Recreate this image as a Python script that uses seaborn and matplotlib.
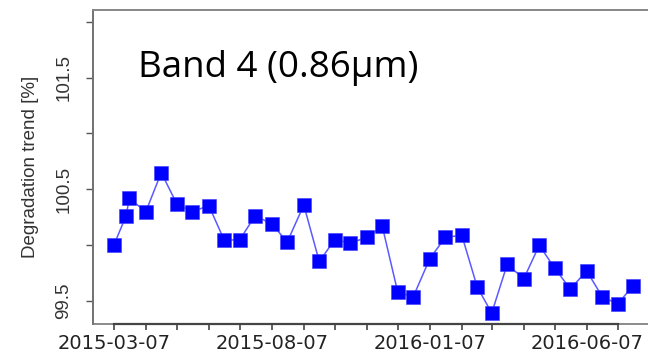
import matplotlib
matplotlib.use("Agg")
import matplotlib.pyplot as plt
import matplotlib.dates as mdates
import pandas as pd
import seaborn as sns

# Acquisition dates and degradation trend values (%)
dates = [
    "2015-03-07", "2015-03-19", "2015-03-22", "2015-04-07", "2015-04-22",
    "2015-05-07", "2015-05-22", "2015-06-07", "2015-06-22", "2015-07-07",
    "2015-07-22", "2015-08-07", "2015-08-22", "2015-09-07", "2015-09-22",
    "2015-10-07", "2015-10-22", "2015-11-07", "2015-11-22", "2015-12-07",
    "2015-12-22", "2016-01-07", "2016-01-22", "2016-02-07", "2016-02-22",
    "2016-03-07", "2016-03-22", "2016-04-07", "2016-04-22", "2016-05-07",
    "2016-05-22", "2016-06-07", "2016-06-22", "2016-07-07", "2016-07-22",
]
trend = [
    100.00, 100.265, 100.42, 100.30, 100.65,
    100.37, 100.30, 100.355, 100.045, 100.05,
    100.265, 100.19, 100.03, 100.36, 99.855,
    100.05, 100.02, 100.07, 100.17, 99.58,
    99.54, 99.88, 100.07, 100.09, 99.625,
    99.395, 99.83, 99.70, 100.00, 99.795,
    99.61, 99.77, 99.54, 99.475, 99.64,
]
tick_dates = [
    "2015-03-07", "2015-04-07", "2015-05-07", "2015-06-07", "2015-07-07",
    "2015-08-07", "2015-09-07", "2015-10-07", "2015-11-07", "2015-12-07",
    "2016-01-07", "2016-02-07", "2016-03-07", "2016-04-07", "2016-05-07",
    "2016-06-07", "2016-07-07",
]
tick_labels = [
    "2015-03-07", "", "", "", "", "2015-08-07", "", "", "", "",
    "2016-01-07", "", "", "", "", "2016-06-07", "",
]
y_ticks = [99.5, 100.0, 100.5, 101.0, 101.5, 102.0]
y_tick_labels = ["99.5", "", "100.5", "", "101.5", ""]
title = "Band 4 (0.86µm)"

sns.set_style("white")
plt.rcParams["font.family"] = ["Liberation Sans", "DejaVu Sans"]

df = pd.DataFrame({"date": pd.to_datetime(dates), "trend": trend})
xt = pd.to_datetime(tick_dates)

fig = plt.figure(figsize=(6.48, 3.53), dpi=100)
ax = fig.add_axes([93 / 648, 29 / 353, 561 / 648, 314 / 353])

sns.lineplot(data=df, x="date", y="trend", ax=ax, color="#5a5aff",
             linewidth=1.1, zorder=2)
sns.scatterplot(data=df, x="date", y="trend", ax=ax, marker="s", s=92,
                color="#0000ff", edgecolor="#3c3cff", linewidth=0.4, zorder=3)

span = df["date"].max() - df["date"].min()
pad = span * 0.04
ax.set_xlim(df["date"].min() - pad, df["date"].max() + pad)
ax.set_ylim(99.296, 102.104)

ax.set_xticks(xt)
ax.set_xticklabels(tick_labels, fontsize=14, color="#222222",
                   family=["DejaVu Sans"])
ax.set_yticks(y_ticks)
ax.set_yticklabels(y_tick_labels, fontsize=13.5, color="#333333",
                   rotation=90, va="center")

ax.tick_params(axis="x", length=4.5, width=1.2, color="#444444", pad=3,
               direction="out", bottom=True)
ax.tick_params(axis="y", length=5, width=1.0, color="#555555", pad=10,
               direction="out", left=True)

# plot box in light grey, axis line along the tick range in dark grey
ax.patch.set_edgecolor("#8a8a8a")
ax.patch.set_linewidth(1.4)
for side, spine in ax.spines.items():
    spine.set_color("#707070")
    spine.set_linewidth(1.2)
ax.spines["top"].set_color("#8a8a8a")
ax.spines["bottom"].set_color("#444444")
ax.spines["bottom"].set_linewidth(1.6)
ax.spines["bottom"].set_bounds(mdates.date2num(xt[0]),
                               mdates.date2num(xt[-1]))

ax.set_xlabel("")
ax.set_ylabel("Degradation trend [%]", fontsize=13.5, color="#333333")
ax.yaxis.set_label_coords(-0.096, 0.5)

ax.text(0.080, 0.7866, title, transform=ax.transAxes, fontsize=26.5,
        family=["Open Sans", "DejaVu Sans"], color="black", va="baseline",
        ha="left")

fig.savefig("out.png", dpi=100)
